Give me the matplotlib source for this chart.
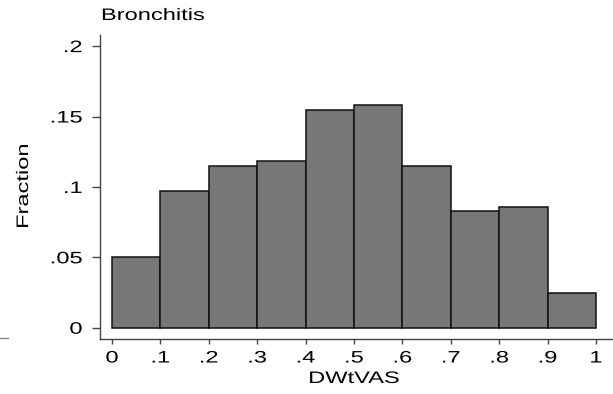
import matplotlib
matplotlib.use("Agg")
import matplotlib.pyplot as plt
from matplotlib.lines import Line2D
from matplotlib.patheffects import AbstractPathEffect
from matplotlib.transforms import Affine2D

plt.rcParams["font.family"] = ["Liberation Sans", "DejaVu Sans"]

# Histogram of DWtVAS for bronchitis: bin edges and fraction per bin
bin_edges = [0.0, 0.1, 0.2, 0.3, 0.4, 0.5, 0.6, 0.7, 0.8, 0.9, 1.0]
fractions = [0.0503, 0.0969, 0.1148, 0.1184, 0.1546, 0.1580, 0.1146, 0.0827, 0.0859, 0.0249]

x_ticks = [0, 0.1, 0.2, 0.3, 0.4, 0.5, 0.6, 0.7, 0.8, 0.9, 1.0]
x_tick_labels = ["0", ".1", ".2", ".3", ".4", ".5", ".6", ".7", ".8", ".9", "1"]
y_ticks = [0, 0.05, 0.1, 0.15, 0.2]
y_tick_labels = ["0", ".05", ".1", ".15", ".2"]


class Widen(AbstractPathEffect):
    """Stretch glyphs along the text direction, keeping an anchor fixed."""

    def __init__(self, sx=1.42, anchor=0.5):
        super().__init__()
        self.sx = sx
        self.anchor = anchor

    def draw_path(self, renderer, gc, tpath, affine, rgbFace=None):
        ext = tpath.get_extents()
        cx = ext.x0 + self.anchor * ext.width
        stretch = Affine2D().translate(-cx, 0).scale(self.sx, 1).translate(cx, 0)
        renderer.draw_path(gc, tpath, stretch + affine, rgbFace)


FS = 12
W, H = 613, 394
fig = plt.figure(figsize=(W / 100, H / 100), dpi=100)
ax = fig.add_axes([100 / W, 1 - 339 / H, 512 / W, (339 - 35) / H])

widths = [b - a for a, b in zip(bin_edges[:-1], bin_edges[1:])]
ax.bar(bin_edges[:-1], fractions, width=widths, align="edge",
       color="#777777", edgecolor="#111111", linewidth=1.1)

ax.set_xlim(-0.0248, 1.033)
ax.set_ylim(-0.008, 0.2079)

for side in ("top", "right"):
    ax.spines[side].set_visible(False)
for side in ("left", "bottom"):
    ax.spines[side].set_color("#444444")
    ax.spines[side].set_linewidth(1.0)

ax.set_xticks(x_ticks)
ax.set_xticklabels(x_tick_labels)
ax.set_yticks(y_ticks)
ax.set_yticklabels(y_tick_labels)
ax.tick_params(axis="x", direction="out", length=3.8, width=1, color="#444444",
               pad=4.5, labelsize=FS, labelcolor="black")
ax.tick_params(axis="y", direction="out", length=5.8, width=1, color="#444444",
               pad=7, labelsize=FS, labelcolor="black")

for lab in ax.get_xticklabels():
    lab.set_path_effects([Widen(anchor=0.5)])
for lab in ax.get_yticklabels():
    lab.set_path_effects([Widen(anchor=1.0)])

fig.text(101.5 / W, 1 - 20 / H, "Bronchitis", ha="left", va="baseline",
         fontsize=FS, path_effects=[Widen(anchor=0.0)])
fig.text(28 / W, 1 - 186 / H, "Fraction", ha="center", va="baseline",
         rotation=90, rotation_mode="anchor", fontsize=FS,
         path_effects=[Widen(anchor=0.5)])
fig.text(354 / W, 1 - 383 / H, "DWtVAS", ha="center", va="baseline",
         fontsize=FS, path_effects=[Widen(anchor=0.5)])

# short rule at the left edge of the panel
fig.add_artist(Line2D([0, 8 / W], [1 - 338 / H, 1 - 338 / H],
                      transform=fig.transFigure, color="#888888", linewidth=1))

fig.savefig("out.png", dpi=100)
